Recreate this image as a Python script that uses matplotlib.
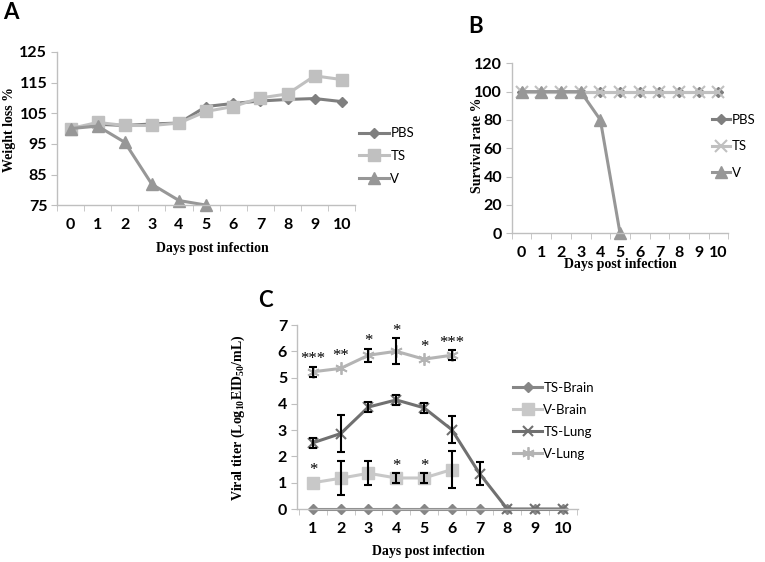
import matplotlib
matplotlib.use("Agg")
import matplotlib.pyplot as plt
import numpy as np

plt.rcParams['font.family'] = 'Lato'
plt.rcParams['font.weight'] = 'bold'
plt.rcParams['mathtext.fontset'] = 'custom'
plt.rcParams['mathtext.rm'] = 'Liberation Serif:bold'
plt.rcParams['mathtext.it'] = 'Liberation Serif:bold'
plt.rcParams['mathtext.bf'] = 'Liberation Serif:bold'

# Panel A - peso
dias_a = list(range(11))
pbs_a = [100, 101.4, 101, 101.5, 101.8, 107.2, 108.2, 109, 109.5, 109.8, 108.8]
ts_a = [100, 102, 101, 101, 101.8, 105.6, 107.2, 110, 111.3, 117.2, 116]
dias_v_a = [0, 1, 2, 3, 4, 5]
v_a = [100, 100.8, 95.5, 81.8, 76.5, 75]

# Panel B - supervivencia
dias_b = list(range(11))
pbs_b = [100] * 11
ts_b = [100] * 11
dias_v_b = [0, 1, 2, 3, 4, 5]
v_b = [100, 100, 100, 100, 80, 0]

# Panel C - titulo viral
dias_c = list(range(1, 11))
ts_brain = [0] * 10
dias_vb = [1, 2, 3, 4, 5, 6]
v_brain = [1.0, 1.17, 1.36, 1.18, 1.18, 1.5]
v_brain_err = [0, 0.65, 0.45, 0.2, 0.2, 0.7]
ts_lung = [2.52, 2.87, 3.88, 4.15, 3.85, 3.02, 1.35, 0, 0, 0]
ts_lung_err = [0.2, 0.7, 0.2, 0.2, 0.2, 0.5, 0.45, 0, 0, 0]
dias_vl = [1, 2, 3, 4, 5, 6]
v_lung = [5.22, 5.35, 5.85, 6.0, 5.7, 5.85]
v_lung_err = [0.2, 0, 0.25, 0.5, 0, 0.2]
sig_lung = ['***', '**', '*', '*', '*', '***']
sig_brain = {1: '*', 4: '*', 5: '*'}

C_DARK = '#7f7f7f'
C_LIGHT = '#c0c0c0'
C_MID = '#979797'
C_SPINE = '#bfbfbf'

LAB_FONT = dict(family='Liberation Serif', weight='bold', size=10)
LEG_FONT = dict(family='Lato', weight='normal', size=9.5)
STAR = (6, 2, 0)

fig = plt.figure(figsize=(7.65, 5.62), dpi=100)
fig.patch.set_facecolor('white')


def estilo(ax, xlim, ylim, yticks, xticks):
    ax.set_xlim(xlim)
    ax.set_ylim(ylim)
    for s in ['top', 'right']:
        ax.spines[s].set_visible(False)
    for s in ['left', 'bottom']:
        ax.spines[s].set_color(C_SPINE)
        ax.spines[s].set_linewidth(1.0)
    ax.set_yticks(yticks)
    ax.set_xticks(xticks)
    ax.set_xticks(np.arange(xticks[0] - 0.5, xticks[-1] + 0.6, 1), minor=True)
    ax.tick_params(axis='x', which='major', length=0, pad=9, labelsize=11.5)
    ax.tick_params(axis='x', which='minor', length=4, color=C_SPINE, direction='out')
    ax.tick_params(axis='y', length=4, color=C_SPINE, pad=3, labelsize=11.5)


def barras(ax, x, y, e):
    # solo las barras visibles (err > 0)
    xs = [a for a, b in zip(x, e) if b > 0]
    ys = [a for a, b in zip(y, e) if b > 0]
    es = [b for b in e if b > 0]
    ax.errorbar(xs, ys, yerr=es, fmt='none', ecolor='black', elinewidth=1.5,
                capsize=3, capthick=1.5, zorder=3)


def estrella(ax, x, y, e, s):
    tope = max(y + e, y + 0.2) + 0.2
    ax.annotate(s, (x, tope), xytext=(0, -1.5), textcoords='offset points',
                ha='center', va='baseline', family='Liberation Serif',
                weight='normal', size=12)


# ---- A ----
ax_a = fig.add_axes([0.0745, 0.635, 0.390, 0.2725])
ax_a.plot(dias_a, pbs_a, color=C_DARK, lw=2.2, marker='D', ms=5, label='PBS', clip_on=False)
ax_a.plot(dias_a, ts_a, color=C_LIGHT, lw=2.2, marker='s', ms=8, label='TS', clip_on=False)
ax_a.plot(dias_v_a, v_a, color=C_MID, lw=2.2, marker='^', ms=9, label='V', clip_on=False)
estilo(ax_a, (-0.43, 10.29), (75, 125), [75, 85, 95, 105, 115, 125], dias_a)
fig.legend(*ax_a.get_legend_handles_labels(), loc='center left',
           bbox_to_anchor=(0.469, 0.7224), frameon=False, handlelength=2.3,
           handletextpad=0.1, labelspacing=0.8, borderpad=0, borderaxespad=0,
           prop=LEG_FONT)
fig.text(0.277, 0.5587, 'Days post infection', ha='center', va='center', **LAB_FONT)
fig.text(0.013, 0.769, 'Weight loss %', ha='center', va='center', rotation=90, **LAB_FONT)
fig.text(0.004, 0.978, 'A', ha='left', va='center', family='Lato', weight='bold', size=16)

# ---- B ----
ax_b = fig.add_axes([0.669, 0.585, 0.283, 0.3025])
ax_b.plot(dias_b, pbs_b, color=C_DARK, lw=2.2, marker='D', ms=5, label='PBS', clip_on=False)
ax_b.plot(dias_b, ts_b, color=C_LIGHT, lw=2.2, marker='x', ms=8, mew=1.5, label='TS', clip_on=False)
ax_b.plot(dias_v_b, v_b, color=C_MID, lw=2.2, marker='^', ms=9, label='V', clip_on=False)
estilo(ax_b, (-0.5, 10.5), (0, 120), range(0, 121, 20), dias_b)
fig.legend(*ax_b.get_legend_handles_labels(), loc='center left',
           bbox_to_anchor=(0.9307, 0.740), frameon=False, handlelength=1.4,
           handletextpad=0.1, labelspacing=1.1, borderpad=0, borderaxespad=0,
           prop=LEG_FONT)
fig.text(0.811, 0.5285, 'Days post infection', ha='center', va='center', **LAB_FONT)
fig.text(0.624, 0.742, 'Survival rate %', ha='center', va='center', rotation=90, **LAB_FONT)
fig.text(0.612, 0.952, 'B', ha='left', va='center', family='Lato', weight='bold', size=16)

# ---- C ----
ax_c = fig.add_axes([0.388, 0.0943, 0.3673, 0.3274])
l1, = ax_c.plot(dias_c, ts_brain, color='#868686', lw=2.2, marker='D', ms=5, label='TS-Brain',
                zorder=2, clip_on=False)
l2, = ax_c.plot(dias_vb, v_brain, color='#c8c8c8', lw=2.2, marker='s', ms=8.5, label='V-Brain',
                zorder=2, clip_on=False)
barras(ax_c, dias_vb, v_brain, v_brain_err)
l3, = ax_c.plot(dias_c, ts_lung, color='#707070', lw=2.2, marker='x', ms=7, mew=1.5, label='TS-Lung',
                zorder=2, clip_on=False)
barras(ax_c, dias_c, ts_lung, ts_lung_err)
l4, = ax_c.plot(dias_vl, v_lung, color='#b4b4b4', lw=2.2, marker=STAR, ms=9, mew=1.3, label='V-Lung',
                zorder=2, clip_on=False)
barras(ax_c, dias_vl, v_lung, v_lung_err)
for d, y, e, s in zip(dias_vl, v_lung, v_lung_err, sig_lung):
    estrella(ax_c, d, y, e, s)
for d, y, e in zip(dias_vb, v_brain, v_brain_err):
    if d in sig_brain:
        estrella(ax_c, d, y, e, sig_brain[d])
estilo(ax_c, (0.42, 10.54), (0, 7), range(0, 8), dias_c)
fig.legend([l1, l2, l3, l4], [l.get_label() for l in [l1, l2, l3, l4]], loc='center left',
           bbox_to_anchor=(0.6706, 0.2514), frameon=False, handlelength=2.2,
           handletextpad=0.1, labelspacing=0.75, borderpad=0, borderaxespad=0,
           prop=LEG_FONT)
fig.text(0.56, 0.0178, 'Days post infection', ha='center', va='center', **LAB_FONT)
fig.text(0.311, 0.256, r'Viral titer (Log$_{10}$EID$_{50}$/mL)', ha='center', va='center',
         rotation=90, **LAB_FONT)
fig.text(0.337, 0.466, 'C', ha='left', va='center', family='Lato', weight='bold', size=16)

fig.savefig('out.png', dpi=100, facecolor='white')
